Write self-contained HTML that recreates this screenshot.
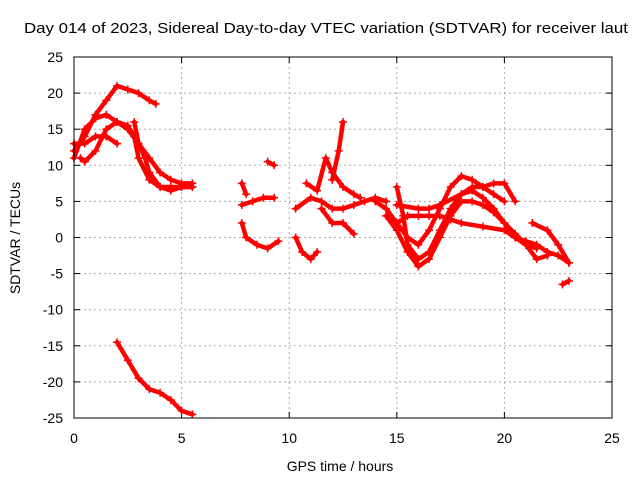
<!DOCTYPE html>
<html><head><meta charset="utf-8"><style>
body{margin:0;background:#fff;}
svg{font-family:"Liberation Sans",sans-serif;}
</style></head><body>
<svg id="chart" width="640" height="480" viewBox="0 0 640 480" xmlns="http://www.w3.org/2000/svg">
<rect width="640" height="480" fill="#fff"/>
<text x="326" y="33" text-anchor="middle" font-size="15" textLength="604" lengthAdjust="spacingAndGlyphs">Day 014 of 2023, Sidereal Day-to-day VTEC variation (SDTVAR) for receiver laut</text>
<text x="340" y="471" text-anchor="middle" font-size="14">GPS time / hours</text>
<text transform="translate(20,238) rotate(-90)" text-anchor="middle" font-size="14">SDTVAR / TECUs</text>
<g id="grid"></g><g id="ticks"></g><g id="series"></g>
<rect x="74" y="57" width="538" height="361" fill="none" stroke="#000" stroke-width="1"/>
</svg>
<script>
const xTicks=[0,5,10,15,20,25];
const yTicks=[25,20,15,10,5,0,-5,-10,-15,-20,-25];
const s1=[[0,12],[0.5,14],[1,17],[1.5,19],[2,21],[2.5,20.5],[3,20],[3.5,19],[3.8,18.5]];
const s2=[[0,11],[0.5,15],[1,16.5],[1.5,17],[2,16],[2.5,15],[3,13],[3.3,11],[3.5,9],[4,7],[4.5,7],[5,7],[5.5,7]];
const s3=[[0,13],[0.5,13],[1,14],[1.5,14],[2,13]];
const s4=[[0.3,11],[0.5,10.5],[1,12],[1.5,15],[2,16],[2.5,15.5],[2.8,14],[3,11],[3.5,8],[4,7],[4.5,6.5],[5,7],[5.5,7]];
const s5=[[2.8,16],[3,13],[3.5,11],[4,9],[4.5,8],[5,7.5],[5.5,7.5]];
const s6=[[2,-14.5],[2.5,-17],[3,-19.5],[3.5,-21],[4,-21.5],[4.5,-22.5],[5,-24],[5.5,-24.5]];
const s7=[[7.8,4.5],[8.3,5],[8.8,5.5],[9.3,5.5]];
const s8=[[7.8,7.5],[8,6]];
const s9=[[7.8,2],[8,0],[8.5,-1],[9,-1.5],[9.5,-0.5]];
const s10=[[9,10.5],[9.3,10]];
const s11=[[10.3,0],[10.6,-2],[11,-3],[11.3,-2]];
const s12=[[10.3,4],[11,5.5],[11.5,5],[12,4],[12.5,4],[13,4.5],[13.5,5],[14,5.5],[14.5,5]];
const s13=[[10.8,7.5],[11.3,6.5],[11.7,11],[12,9],[12.5,7],[13,6],[13.3,5.5]];
const s14=[[12,8],[12.3,12],[12.5,16]];
const s15=[[11.5,4],[12,2],[12.5,2],[13,0.5]];
const s16=[[14,5],[14.5,4],[15,2],[15.5,0],[16,-1],[16.5,1],[17,4],[17.5,7],[18,8.5],[18.5,8],[19,7],[19.5,6],[20,5]];
const s17=[[15,7],[15.3,3],[15.5,-1],[16,-3],[16.5,-2],[17,1],[17.5,4],[18,6],[18.5,7],[19,7],[19.5,7.5],[20,7.5],[20.5,5]];
const s18=[[15,2],[15.5,3],[16,3],[16.5,3],[17,3],[17.5,2.5],[18,2],[19,1.5],[20,1],[20.5,0],[21,-0.5],[21.5,-1],[22,-2],[22.5,-2.5],[23,-3.5]];
const s19=[[14.5,3],[15,1],[15.5,-2],[16,-4],[16.5,-3],[17,0],[17.5,3],[18,5],[18.5,5],[19,4.5],[19.5,3.5],[20,2],[20.5,0.5],[21,-1],[21.5,-3],[22,-2.5]];
const s20=[[15,4.5],[16,4],[16.5,4],[17,4.5],[18,6],[18.5,6.5],[19,5.5],[19.5,4],[20,2],[20.5,0],[21,-1],[21.5,-1.5]];
const s21=[[21.3,2],[22,1],[22.5,-1],[23,-3.5]];
const s22=[[22.7,-6.5],[23,-6]];
const allSeries=[s1,s2,s3,s4,s5,s6,s7,s8,s9,s10,s11,s12,s13,s14,s15,s16,s17,s18,s19,s20,s21,s22];
const X0=74,X1=612,Y0=418,Y1=57;
const xs=v=>X0+(v-0)/25*(X1-X0);
const ys=v=>Y0-(v+25)/50*(Y0-Y1);
const NS="http://www.w3.org/2000/svg";
function mk(t,a,p){const e=document.createElementNS(NS,t);for(const k in a)e.setAttribute(k,a[k]);p.appendChild(e);return e;}
const grid=document.getElementById('grid'),ticks=document.getElementById('ticks'),ser=document.getElementById('series');
xTicks.forEach(v=>{const x=xs(v);
 if(v>0&&v<25){const g=mk('line',{x1:x,x2:x,y1:Y1,y2:Y0,stroke:'#aaa','stroke-dasharray':'2,3'},grid);
 }
 mk('line',{x1:x,x2:x,y1:Y0,y2:Y0-6,stroke:'#000'},ticks);mk('line',{x1:x,x2:x,y1:Y1,y2:Y1+6,stroke:'#000'},ticks);
 const t=mk('text',{x:x,y:443,'text-anchor':'middle','font-size':'14'},ticks);t.textContent=v;
 });
yTicks.forEach(v=>{const y=ys(v);
 if(v>-25&&v<25){const g=mk('line',{x1:X0,x2:X1,y1:y,y2:y,stroke:'#aaa','stroke-dasharray':'2,3'},grid);
 }
 mk('line',{x1:X0,x2:X0+6,y1:y,y2:y,stroke:'#000'},ticks);mk('line',{x1:X1,x2:X1-6,y1:y,y2:y,stroke:'#000'},ticks);
 const t=mk('text',{x:63,y:y+5,'text-anchor':'end','font-size':'14'},ticks);t.textContent=v;
 });
allSeries.forEach(s=>{
 const pl=mk('polyline',{points:s.map(p=>xs(p[0])+','+ys(p[1])).join(' '),fill:'none',stroke:'#f00','stroke-width':'4.5','stroke-linejoin':'round','stroke-linecap':'round'},ser);
 
 
 s.forEach(p=>{const x=xs(p[0]),y=ys(p[1]);
  const m=mk('path',{d:`M${x-4},${y}H${x+4}M${x},${y-4}V${y+4}`,stroke:'#f00','stroke-width':'1.5'},ser);
  
  });
});
</script>
</body></html>
